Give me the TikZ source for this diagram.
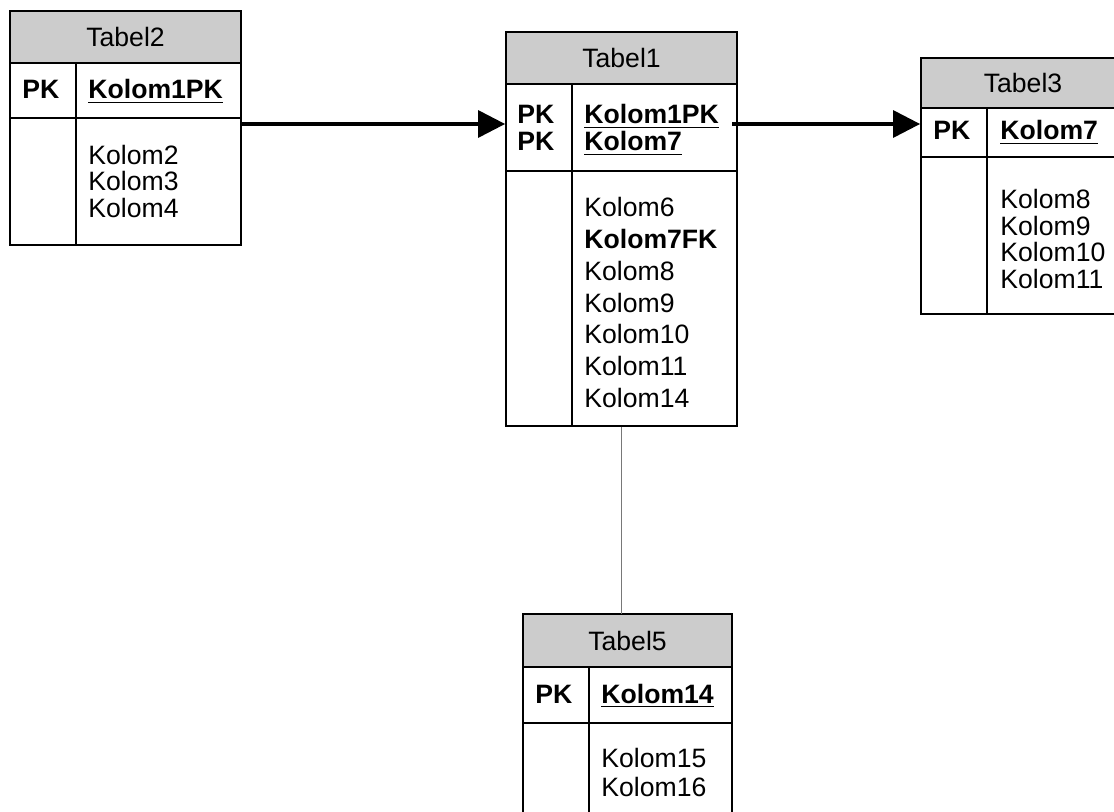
\documentclass[tikz,border=0pt]{standalone}
\usepackage{fontspec}
\setmainfont{Liberation Sans}
\usetikzlibrary{fit,arrows.meta}

\definecolor{headgray}{RGB}{204,204,204}
\definecolor{linkgray}{RGB}{120,120,120}

\tikzset{
  tabhead/.style={fill=headgray, inner sep=0pt},
  tabtitle/.style={inner sep=0pt, font=\fontsize{13.3}{16}\selectfont},
  tabbox/.style={draw, line width=0.9pt, inner sep=0pt},
  coltext/.style={anchor=base west, inner sep=0pt, font=\fontsize{13.3}{16}\selectfont},
  pktext/.style={coltext, font=\fontsize{13.3}{16}\selectfont\bfseries},
  relarrow/.style={line width=1.6pt, -{Triangle[length=13.5pt,width=13.5pt]}},
  link/.style={draw=linkgray, line width=0.6pt}
}

% #1 name, #2 left, #3 top, #4 divider, #5 right, #6 header bottom, #7 key bottom, #8 bottom, #9 title
\newcommand{\tabel}[9]{
  \node[tabhead, fit={(#2,#3) (#5,#6)}] (#1head) {};
  \node[tabtitle] (#1title) at (#1head.center) {#9};
  \node[tabbox, fit={(#2,#3) (#5,#8)}] (#1) {};
  \draw[line width=0.9pt] (#2,#6) -- (#5,#6) (#2,#7) -- (#5,#7) (#4,#6) -- (#4,#8);
}

\begin{document}
\begin{tikzpicture}[x=0.5pt,y=-0.5pt]
		\clip (0,0) rectangle (1114,812);

		% Tabel2
		\tabel{t2}{10}{11}{76}{241}{63}{118}{245}{Tabel2}
		\node[pktext] (t2pk) at (22,99) {PK};
		\node[pktext] (t2key) at (88,99) {\underline{Kolom1PK}};
		\foreach \txt [count=\i] in {Kolom2,Kolom3,Kolom4}
		{
			\node[coltext] (t2c\i) at (88,{138+26.5*\i}) {\txt};
		}

		% Tabel1
		\tabel{t1}{506}{32}{572}{737}{84}{171}{426}{Tabel1}
		\node[pktext] (t1pka) at (517,124) {PK};
		\node[pktext] (t1pkb) at (517,151) {PK};
		\node[pktext] (t1keya) at (584,124) {\underline{Kolom1PK}};
		\node[pktext] (t1keyb) at (584,151) {\underline{Kolom7}};
		\foreach \txt [count=\i] in {Kolom6,\textbf{Kolom7FK},Kolom8,Kolom9,Kolom10,Kolom11,Kolom14}
		{
			\node[coltext] (t1c\i) at (584,{185.3+31.7*\i}) {\txt};
		}

		% Tabel3
		\tabel{t3}{921}{58}{987}{1125}{108}{157}{314}{Tabel3}
		\node[pktext] (t3pk) at (933,140) {PK};
		\node[pktext] (t3key) at (1000,140) {\underline{Kolom7}};
		\foreach \txt [count=\i] in {Kolom8,Kolom9,Kolom10,Kolom11}
		{
			\node[coltext] (t3c\i) at (1000,{182.5+26.5*\i}) {\txt};
		}

		% Tabel5
		\tabel{t5}{523}{614}{589}{732}{667}{723}{840}{Tabel5}
		\node[pktext] (t5pk) at (535,703) {PK};
		\node[pktext] (t5key) at (601,703) {\underline{Kolom14}};
		\foreach \txt [count=\i] in {Kolom15,Kolom16}
		{
			\node[coltext] (t5c\i) at (601,{738+29*\i}) {\txt};
		}

		% relasi
		\coordinate (r1) at (732,124);
		\draw[relarrow] (t2.east |- r1) -- (t1.west |- r1);
		\draw[relarrow] (r1) -- (t3.west |- r1);
		\draw[link] (t1.south) -- (t1.south |- t5head.north);

	\end{tikzpicture}
\end{document}
